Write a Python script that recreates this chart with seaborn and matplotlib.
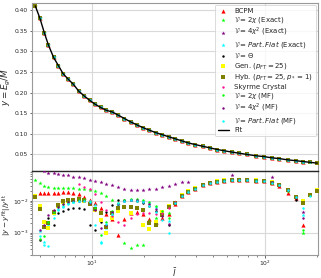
import numpy as np
import pandas as pd
import matplotlib
matplotlib.use("Agg")
import matplotlib.pyplot as plt
import seaborn as sns

nan = np.nan

# common l grid
L = [4.7, 5.0, 5.3, 5.6, 6.0, 6.4, 6.8, 7.3, 7.8, 8.4, 9.0, 9.7, 10.4, 11.2, 12.1,
     13.1, 14.2, 15.4, 16.7, 18.1, 19.7, 21.4, 23.3, 25.4, 27.7, 30.2, 33, 36, 39.5,
     43.5, 48, 53, 58, 64, 71, 79, 88, 98, 109, 121, 135, 150, 165, 182, 200]

# y = E/M (also the fit curve)
Y_TOP = [0.41, 0.38, 0.345, 0.315, 0.285, 0.265, 0.246, 0.232, 0.22, 0.203, 0.192,
         0.181, 0.172, 0.164, 0.157, 0.153, 0.145, 0.137, 0.129, 0.122, 0.115, 0.109,
         0.103, 0.098, 0.093, 0.088, 0.083, 0.078, 0.074, 0.07, 0.066, 0.062, 0.059,
         0.056, 0.053, 0.05, 0.047, 0.045, 0.042, 0.04, 0.037, 0.035, 0.033, 0.031, 0.029]

# relative residuals
R_BCPM = [nan, 0.0172, 0.0178, 0.0182, 0.0182, 0.0182, 0.0184, 0.0191, 0.0178, 0.016, 0.0133,
          0.0107, 0.0087, 0.006, 0.0039, 0.0027, 0.00087, 0.0027, 0.0042, 0.0046, 0.0039,
          0.0027, 0.0022, 0.0029, 0.004, 0.008, 0.014, 0.0195, 0.024, 0.031, 0.036, 0.04,
          0.043, 0.0445, 0.045, 0.0445, 0.043, 0.0415, 0.037, 0.03, 0.0178, 0.012, 0.0018, nan, nan]
R_2CHI_EX = [0.045, 0.0365, 0.029, 0.0274, 0.026, 0.025, 0.025, 0.025, 0.025, 0.0237, 0.023,
             0.022, 0.0205, 0.0178, 0.0143, 0.0107, 0.0075, 0.00049, 0.00034, 0.00042, 0.00042,
             0.0024, 0.0029, 0.0037, 0.0042, 0.009, 0.015, 0.02, 0.025, 0.032, 0.037, 0.041,
             0.044, 0.046, 0.046, 0.045, 0.044, 0.042, 0.038, 0.031, 0.021, 0.013, 0.001, nan, nan]
R_4CHI_EX = [0.12, 0.1, 0.088, 0.078, 0.075, 0.07, 0.065, 0.063, 0.058, 0.056, 0.052, 0.047,
             0.042, 0.038, 0.034, 0.0305, 0.0274, 0.0237, 0.022, 0.022, 0.022, 0.023, 0.024,
             0.027, 0.03, 0.034, 0.038, 0.04, nan, nan, nan, nan, nan, 0.065, nan, nan, nan,
             nan, 0.057, nan, nan, nan, 0.0045, nan, nan]
R_PF_EX = [nan, 0.0011, 0.0005, 0.0018, 0.0039, 0.0056, 0.007, 0.0084, 0.0093, 0.01, 0.0107,
           0.01, 0.0075, 0.0005, 0.0014, 0.0037, 0.0075, 0.01, 0.0107, 0.0107, 0.01, 0.0087,
           0.0065, 0.0039, 0.0023, 0.0085, 0.0145, 0.0195, 0.0245, 0.031, 0.036, 0.04, 0.043,
           0.045, 0.045, 0.045, 0.043, 0.042, 0.037, 0.031, 0.022, 0.013, 0.0037, nan, nan]
R_THETA = [nan, 0.0006, 0.0024, 0.0029, 0.0018, 0.0042, 0.0049, 0.0056, 0.0058, 0.006, 0.0056,
           0.0018, 0.0012, 0.0022, 0.0045, 0.0075, 0.0104, 0.011, 0.0107, 0.01, 0.0087, 0.007,
           0.0049, 0.0037, 0.0018, 0.0088, 0.0142, 0.0198, 0.0246, 0.0316, 0.0365, 0.0407,
           0.0437, 0.0453, 0.0453, 0.0453, 0.0437, 0.0422, 0.038, 0.0316, 0.0221, 0.0107, nan, nan, nan]
R_GEN = [0.0143, 0.007, 0.0022, 0.0014, 0.0042, 0.007, 0.0093, 0.01, 0.0107, 0.011, 0.01,
         0.0081, 0.0052, 0.0025, 0.001, 0.0029, 0.0049, 0.0065, 0.0042, nan, 0.0018, 0.0013,
         0.0022, 0.0045, 0.007, 0.0089, 0.0148, 0.0201, 0.0249, 0.0318, 0.0368, 0.041, 0.044,
         0.0455, 0.0455, 0.045, 0.044, 0.042, 0.0385, 0.032, 0.0225, 0.0135, 0.01, 0.0154, 0.0221]
R_HYB = [0.0133, 0.0056, 0.0015, 0.002, 0.0045, 0.0075, 0.01, 0.0107, 0.011, 0.0113, 0.0107,
         0.008, 0.0056, 0.0042, 0.0015, 0.0042, 0.006, 0.0065, 0.0065, 0.006, 0.005, 0.002,
         0.0017, 0.0035, 0.0065, 0.0086, 0.0141, 0.0196, 0.0243, 0.0312, 0.0362, 0.0404,
         0.0434, 0.045, 0.045, 0.045, 0.0434, 0.0418, 0.0376, 0.0312, 0.0218, 0.0131, 0.0087, 0.0154, 0.02]
R_SKYRME = [nan, nan, nan, nan, nan, nan, nan, nan, nan, 0.034, 0.0274, 0.023, 0.0165, 0.0093,
            0.0052, 0.0034, 0.0022, 0.0018, 0.0029, 0.0039, 0.0042, 0.0041, 0.0039, 0.0042, 0.006,
            0.0092, 0.0146, 0.02, 0.0248, 0.0318, 0.0367, 0.0409, 0.0439, 0.0455, 0.0455, 0.0453,
            0.0439, 0.0424, 0.0382, 0.0318, 0.0223, 0.0134, nan, nan, nan]
R_2CHI_MF = [nan, 0.00065, 0.0008, 0.0022, 0.0045, 0.0065, 0.008, 0.0093, 0.01, 0.0107, 0.0104,
             0.0093, 0.006, 0.00087, 0.0022, 0.0049, 0.0087, 0.0107, 0.0115, 0.0115, 0.0107,
             0.0093, 0.007, 0.0049, 0.0029, 0.0087, 0.0144, 0.0199, 0.0247, 0.0317, 0.0366,
             0.0408, 0.0438, 0.0454, 0.0454, 0.0452, 0.0438, 0.0423, 0.0381, 0.0317, 0.0222,
             0.0133, 0.0012, nan, nan]
R_4CHI_MF = [nan, 0.0012, 0.0018, 0.0035, 0.005, 0.0065, 0.008, 0.009, 0.0097, 0.01, 0.0097,
             0.0085, 0.0052, 0.0014, 0.0017, 0.0045, 0.008, 0.01, 0.0107, 0.0104, 0.0095, 0.008,
             0.0055, 0.0034, 0.0019, 0.0086, 0.0143, 0.0197, 0.0245, 0.0315, 0.0364, 0.0406,
             0.0436, 0.0452, 0.0452, 0.0451, 0.0436, 0.0421, 0.0379, 0.0315, 0.022, 0.0132, 0.003, nan, nan]
R_PF_MF = [nan, 0.0008, 0.0004, 0.00037, 0.003, 0.005, 0.0065, 0.008, 0.009, 0.0097, 0.01,
           0.009, 0.0018, 0.00049, 0.0019, 0.004, 0.0085, 0.01, 0.0105, 0.01, 0.009, 0.007,
           0.0045, 0.0025, 0.001, 0.0085, 0.0142, 0.0197, 0.0244, 0.0314, 0.0363, 0.0405,
           0.0435, 0.0451, 0.0451, 0.045, 0.0435, 0.042, 0.0378, 0.0314, 0.0219, 0.0131, 0.006, 0.0143, nan]

LABELS = ["BCPM",
          r"$\mathcal{V}=2\chi$ (Exact)",
          r"$\mathcal{V}=4\chi^2$ (Exact)",
          r"$\mathcal{V}=Part.Flat$ (Exact)",
          r"$\mathcal{V}=\Theta$",
          r"Gen. ($p_{FT}=25$)",
          r"Hyb. ($p_{FT}=25,p_*=1$)",
          "Skyrme Crystal",
          r"$\mathcal{V}=2\chi$ (MF)",
          r"$\mathcal{V}=4\chi^2$ (MF)",
          r"$\mathcal{V}=Part.Flat$ (MF)"]
RESID = [R_BCPM, R_2CHI_EX, R_4CHI_EX, R_PF_EX, R_THETA, R_GEN, R_HYB, R_SKYRME,
         R_2CHI_MF, R_4CHI_MF, R_PF_MF]
COLORS = ["red", "lime", "purple", "cyan", "black", "yellow", "olive", "deeppink",
          "lime", "purple", "cyan"]
MARKERS = ["^", "*", "*", "*", "o", "s", "s", "o", "o", "o", "o"]
SIZES = [9, 10, 10, 10, 3, 11, 11, 3, 3, 3, 3]

sns.set_theme(style="whitegrid")
plt.rcParams.update({
    "font.family": ["DejaVu Sans"],
    "axes.edgecolor": "0.6",
    "axes.linewidth": 0.8,
    "grid.color": "0.85",
    "grid.linewidth": 0.8,
    "xtick.bottom": True,
    "ytick.left": True,
    "xtick.color": "0.3",
    "ytick.color": "0.3",
    "xtick.labelcolor": "0.15",
    "ytick.labelcolor": "0.15",
    "xtick.major.size": 1.8,
    "ytick.major.size": 1.8,
    "xtick.minor.size": 1.2,
    "ytick.minor.size": 1.2,
    "xtick.major.width": 0.6,
    "ytick.major.width": 0.6,
    "xtick.minor.width": 0.5,
    "ytick.minor.width": 0.5,
    "xtick.major.pad": 1.2,
    "ytick.major.pad": 1.0,
    "xtick.labelsize": 4.3,
    "ytick.labelsize": 4.3,
    "axes.labelsize": 6.3,
})

fig = plt.figure(figsize=(3.21, 2.78), dpi=100)
ax1 = fig.add_axes([32/321, 107/278, 286/321, 168/278])
ax2 = fig.add_axes([32/321, 23/278, 286/321, 84/278], sharex=ax1)

for lab, res, col, mk, sz in zip(LABELS, RESID, COLORS, MARKERS, SIZES):
    df = pd.DataFrame({"l": L, "y": Y_TOP, "r": res}).dropna()
    sns.scatterplot(data=df, x="l", y="y", ax=ax1, color=col, marker=mk, s=sz,
                    linewidth=0, label=lab, zorder=3)
    sns.scatterplot(data=df, x="l", y="r", ax=ax2, color=col, marker=mk, s=sz,
                    linewidth=0, legend=False, zorder=3)

sns.lineplot(x=L, y=Y_TOP, ax=ax1, color="black", linewidth=1.0, label="Fit", zorder=4)

ax1.set_xscale("log")
ax1.set_xlim(4.5, 202)
ax1.set_ylim(0.01, 0.417)
ax1.set_yticks([0.05, 0.10, 0.15, 0.20, 0.25, 0.30, 0.35, 0.40])
ax1.set_yticklabels(["0.05", "0.10", "0.15", "0.20", "0.25", "0.30", "0.35", "0.40"])
ax1.tick_params(axis="x", which="both", labelbottom=False, bottom=False)
ax1.set_xlabel("")
ax1.set_ylabel(r"$y = E_g/M$")
ax1.yaxis.set_label_coords(-0.068, 0.5)
ax1.grid(True, which="major")

ax2.set_yscale("log")
ax2.set_ylim(2.0e-4, 0.087)
ax2.set_xlabel(r"$\bar{l}$")
ax2.xaxis.set_label_coords(0.5, -0.13)
ax2.set_ylabel(r"$|y - y^{\rm fit}|/y^{\rm fit}$", fontsize=5.2)
ax2.yaxis.set_label_coords(-0.064, 0.48)
ax2.spines["top"].set_color("0.15")
ax2.spines["top"].set_linewidth(1.0)
ax2.grid(True, which="major")
ax2.grid(False, which="minor")

leg = ax1.legend(loc="upper right", fontsize=5.0, frameon=True, labelspacing=0.16,
                 borderpad=0.4, handletextpad=0.8, handlelength=1.6, borderaxespad=0.3)
leg.get_frame().set_edgecolor("0.8")
leg.get_frame().set_linewidth(0.6)

fig.savefig("out.png", dpi=100)
